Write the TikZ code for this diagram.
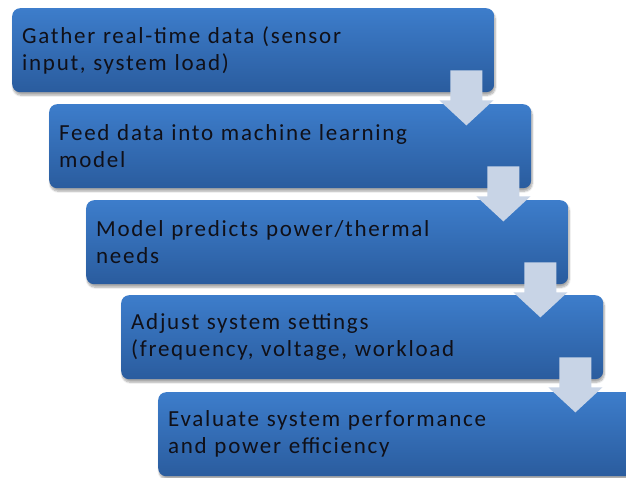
\documentclass[tikz,border=0pt]{standalone}
\usepackage{fontspec}
\setmainfont{Carlito}[LetterSpace=7.5]
\usetikzlibrary{calc,shadows.blur}
\definecolor{boxtop}{HTML}{3D7DCB}
\definecolor{boxbot}{HTML}{2A5C9E}
\definecolor{arrowc}{HTML}{C8D4E6}
\definecolor{txt}{HTML}{101018}
\tikzset{
  stepbox/.style={rectangle, rounded corners=8pt, anchor=north west,
    minimum width=482pt, minimum height=84pt, text width=462pt,
    inner xsep=10pt, inner ysep=0pt, align=left, text=txt,
    top color=boxtop, bottom color=boxbot, draw=none,
    font=\fontsize{23}{27}\selectfont,
    blur shadow={shadow blur steps=8, shadow xshift=1pt, shadow yshift=-3pt, shadow opacity=35}},
  downarrow/.style={fill=arrowc, draw=none}
}
\newcommand{\downarr}[1]{%
  \fill[downarrow] ($(#1.south east)+(-44,-22)$) -- ($(#1.south east)+(-12,-22)$)
    -- ($(#1.south east)+(-12,8)$) -- ($(#1.south east)+(-1,8)$)
    -- ($(#1.south east)+(-28,33)$) -- ($(#1.south east)+(-55,8)$)
    -- ($(#1.south east)+(-44,8)$) -- cycle;}
\begin{document}
\begin{tikzpicture}[x=1pt,y=-1pt]
\useasboundingbox (0,0) rectangle (626,477);
\clip (0,0) rectangle (626,477);
\node[stepbox] (b1) at (12,8) {Gather real-time data (sensor\\input, system load)};
\node[stepbox] (b2) at (49,104) {Feed data into machine learning\\model};
\node[stepbox] (b3) at (86,200) {Model predicts power/thermal\\needs};
\node[stepbox] (b4) at (121,295) {Adjust system settings\\(frequency, voltage, workload};
\node[stepbox] (b5) at (158,392) {Evaluate system performance\\and power efficiency};
\downarr{b1}
\downarr{b2}
\downarr{b3}
\downarr{b4}
\end{tikzpicture}
\end{document}
